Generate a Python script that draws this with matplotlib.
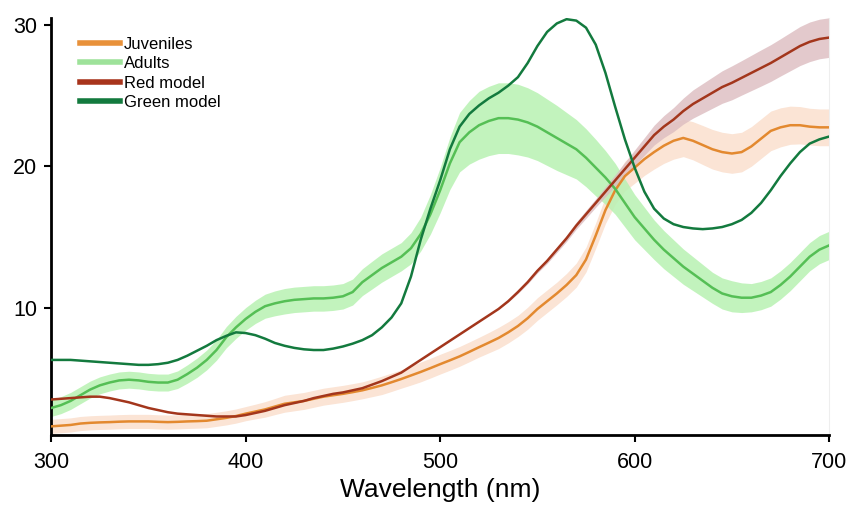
import numpy as np
import matplotlib
matplotlib.use("Agg")
import matplotlib.pyplot as plt

plt.rcParams['font.family'] = ['Liberation Sans', 'DejaVu Sans']

# wavelength grid (nm), 300..700 every 5 nm
wavelength = list(range(300, 705, 5))

# values, rows of 10 (300-345, 350-395, ...)
juveniles = [1.6, 1.65, 1.7, 1.8, 1.85, 1.88, 1.9, 1.93, 1.95, 1.95,
             1.95, 1.92, 1.9, 1.92, 1.95, 1.97, 2.0, 2.1, 2.2, 2.33,
             2.5, 2.65, 2.8, 3.0, 3.2, 3.3, 3.4, 3.55, 3.7, 3.8,
             3.9, 4.02, 4.15, 4.32, 4.5, 4.72, 4.95, 5.2, 5.45, 5.72,
             6.0, 6.27, 6.55, 6.87, 7.2, 7.52, 7.85, 8.25, 8.7, 9.25,
             9.9, 10.45, 11.0, 11.6, 12.3, 13.4, 15.1, 16.9, 18.3, 19.3,
             19.9, 20.5, 21.0, 21.45, 21.8, 22.0, 21.8, 21.5, 21.2, 21.0,
             20.9, 21.0, 21.4, 21.95, 22.5, 22.75, 22.9, 22.9, 22.8, 22.75,
             22.75]
juveniles_err = [0.5, 0.5, 0.5, 0.5, 0.5, 0.5, 0.5, 0.5, 0.5, 0.5,
                 0.5, 0.5, 0.5, 0.5, 0.5, 0.5, 0.5, 0.5, 0.5, 0.5,
                 0.5, 0.52, 0.55, 0.57, 0.6, 0.6, 0.6, 0.6, 0.6, 0.6,
                 0.6, 0.6, 0.6, 0.62, 0.65, 0.65, 0.65, 0.68, 0.7, 0.7,
                 0.7, 0.7, 0.7, 0.7, 0.7, 0.72, 0.75, 0.75, 0.75, 0.78,
                 0.8, 0.8, 0.8, 0.82, 0.85, 0.88, 0.9, 0.95, 1.0, 1.05,
                 1.1, 1.15, 1.2, 1.25, 1.3, 1.32, 1.35, 1.38, 1.4, 1.4,
                 1.4, 1.4, 1.4, 1.4, 1.4, 1.38, 1.35, 1.32, 1.3, 1.3,
                 1.3]

adults = [2.9, 3.1, 3.4, 3.8, 4.2, 4.5, 4.7, 4.85, 4.9, 4.85,
          4.75, 4.7, 4.7, 4.9, 5.3, 5.75, 6.3, 7.0, 7.9, 8.6,
          9.2, 9.7, 10.1, 10.3, 10.45, 10.55, 10.6, 10.65, 10.65, 10.7,
          10.8, 11.1, 11.8, 12.3, 12.8, 13.2, 13.6, 14.2, 15.2, 16.6,
          18.3, 20.2, 21.7, 22.4, 22.9, 23.2, 23.4, 23.4, 23.3, 23.1,
          22.8, 22.4, 22.0, 21.6, 21.2, 20.6, 19.9, 19.2, 18.4, 17.4,
          16.4, 15.6, 14.8, 14.1, 13.5, 12.9, 12.4, 11.9, 11.4, 11.0,
          10.8, 10.7, 10.7, 10.85, 11.1, 11.6, 12.2, 12.9, 13.6, 14.1,
          14.4]
adults_err = [0.6, 0.6, 0.6, 0.6, 0.6, 0.6, 0.6, 0.6, 0.6, 0.6,
              0.6, 0.6, 0.6, 0.62, 0.65, 0.68, 0.7, 0.72, 0.75, 0.78,
              0.8, 0.82, 0.85, 0.88, 0.9, 0.9, 0.9, 0.9, 0.9, 0.9,
              0.9, 0.92, 0.95, 0.98, 1.0, 1.0, 1.0, 1.1, 1.2, 1.4,
              1.6, 1.85, 2.1, 2.25, 2.4, 2.45, 2.5, 2.5, 2.5, 2.45,
              2.4, 2.35, 2.3, 2.2, 2.1, 2.05, 2.0, 1.9, 1.8, 1.7,
              1.6, 1.5, 1.4, 1.35, 1.3, 1.25, 1.2, 1.15, 1.1, 1.1,
              1.1, 1.05, 1.0, 1.0, 1.0, 1.0, 1.0, 1.0, 1.0, 1.0,
              1.0]

red_model = [3.5, 3.55, 3.6, 3.65, 3.7, 3.7, 3.6, 3.45, 3.3, 3.1,
             2.9, 2.75, 2.6, 2.5, 2.45, 2.4, 2.35, 2.3, 2.3, 2.3,
             2.4, 2.55, 2.7, 2.9, 3.1, 3.25, 3.4, 3.6, 3.75, 3.9,
             4.0, 4.15, 4.3, 4.55, 4.8, 5.1, 5.4, 5.85, 6.3, 6.75,
             7.2, 7.65, 8.1, 8.55, 9.0, 9.45, 9.9, 10.45, 11.1, 11.8,
             12.6, 13.3, 14.1, 14.9, 15.8, 16.6, 17.4, 18.2, 19.0, 19.8,
             20.6, 21.4, 22.2, 22.8, 23.3, 23.9, 24.4, 24.8, 25.2, 25.6,
             25.9, 26.25, 26.6, 26.95, 27.3, 27.7, 28.1, 28.5, 28.8, 29.0,
             29.1]
red_err = [0, 0, 0, 0, 0, 0, 0, 0, 0, 0,
           0, 0, 0, 0, 0, 0, 0, 0, 0, 0,
           0, 0, 0, 0, 0, 0, 0, 0, 0, 0,
           0, 0, 0, 0, 0, 0, 0, 0, 0, 0,
           0, 0, 0, 0, 0, 0, 0, 0.05, 0.1, 0.12,
           0.15, 0.18, 0.2, 0.22, 0.25, 0.28, 0.3, 0.35, 0.4, 0.48,
           0.55, 0.62, 0.7, 0.78, 0.85, 0.92, 1.0, 1.05, 1.1, 1.15,
           1.2, 1.22, 1.25, 1.28, 1.3, 1.32, 1.35, 1.38, 1.4, 1.4,
           1.4]

green_model = [6.3, 6.3, 6.3, 6.25, 6.2, 6.15, 6.1, 6.05, 6.0, 5.95,
               5.95, 6.0, 6.1, 6.3, 6.6, 6.95, 7.3, 7.7, 8.0, 8.25,
               8.2, 8.05, 7.8, 7.5, 7.3, 7.15, 7.05, 7.0, 7.0, 7.1,
               7.25, 7.45, 7.7, 8.05, 8.6, 9.3, 10.3, 12.2, 14.8, 17.0,
               19.0, 21.2, 22.8, 23.7, 24.3, 24.8, 25.2, 25.7, 26.3, 27.3,
               28.5, 29.5, 30.1, 30.4, 30.3, 29.8, 28.6, 26.6, 24.2, 21.9,
               19.9, 18.2, 17.0, 16.3, 15.9, 15.7, 15.6, 15.55, 15.6, 15.7,
               15.9, 16.2, 16.7, 17.4, 18.3, 19.3, 20.2, 21.0, 21.6, 21.9,
               22.1]

wl = np.array(wavelength)

fig, ax = plt.subplots(figsize=(8.53, 5.08), dpi=100)
fig.subplots_adjust(left=0.060, right=0.972, bottom=0.144, top=0.965)

# shaded error bands
j, je = np.array(juveniles), np.array(juveniles_err)
a, ae = np.array(adults), np.array(adults_err)
r, re = np.array(red_model), np.array(red_err)
ax.fill_between(wl, j - je, j + je, color='#fbe4d5', lw=0, zorder=1)
ax.fill_between(wl, a - ae, a + ae, color='#b8f2b2', alpha=0.85, lw=0, zorder=1)
ax.fill_between(wl, r - re, r + re, color='#dcbcc0', alpha=0.8, lw=0, zorder=1)

ax.plot(wl, j, color='#e3892f', lw=1.8, zorder=3)
ax.plot(wl, a, color='#55bf55', lw=1.8, zorder=3)
ax.plot(wl, r, color='#a3361c', lw=1.8, zorder=3)
ax.plot(wl, green_model, color='#137a3e', lw=1.8, zorder=4)

# legend proxies with the legend's lighter colours
handles = [plt.Line2D([], [], color=c, lw=4) for c in
           ['#e8913a', '#9ee29a', '#a8341c', '#137a3e']]
ax.legend(handles, ['Juveniles', 'Adults', 'Red model', 'Green model'],
          loc='upper left', bbox_to_anchor=(0.037, 0.955), frameon=False,
          fontsize=12, handlelength=2.4, handletextpad=0.25,
          labelspacing=0.27, borderaxespad=0, borderpad=0)

ax.set_xlim(300, 700)
ax.set_ylim(1.0, 30.5)
ax.set_xticks([300, 400, 500, 600, 700])
ax.set_yticks([10, 20, 30])
ax.tick_params(labelsize=15.5, length=5, width=1.5)
ax.tick_params(axis='x', pad=7)
ax.tick_params(axis='y', pad=5)
ax.set_xlabel('Wavelength (nm)', fontsize=19, labelpad=4)

ax.spines['top'].set_visible(False)
ax.spines['right'].set_color('#eeeeee')
ax.spines['right'].set_linewidth(0.8)
ax.spines['left'].set_linewidth(2)
ax.spines['bottom'].set_linewidth(2)

fig.savefig('out.png', dpi=100)
